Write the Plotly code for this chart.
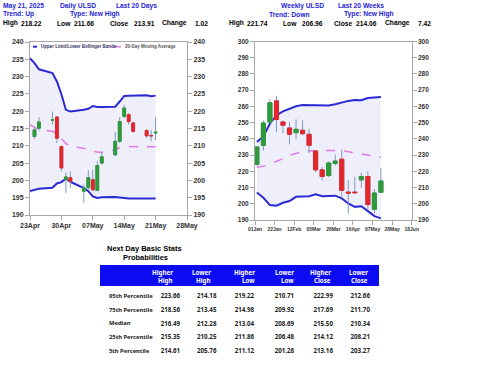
import plotly.graph_objects as go

# ---------------- data ----------------
day_dates = ["2025-04-24", "2025-04-25", "2025-04-28", "2025-04-29", "2025-04-30",
             "2025-05-01", "2025-05-02", "2025-05-05", "2025-05-06", "2025-05-07",
             "2025-05-08", "2025-05-09", "2025-05-12", "2025-05-13", "2025-05-14",
             "2025-05-15", "2025-05-16", "2025-05-19", "2025-05-20", "2025-05-21"]
day_open = [212.7, 215.1, 217.4, 218.3, 209.8, 200.3, 200.8, 196.9, 197.9, 200.2,
            197.1, 205.0, 207.4, 211.3, 218.5, 219.0, 216.6, 214.4, 213.0, 213.7]
day_high = [215.2, 218.3, 219.9, 218.5, 210.0, 202.3, 202.6, 198.8, 202.9, 203.1,
            205.5, 208.1, 214.1, 218.3, 221.8, 219.5, 217.0, 214.8, 214.6, 218.22]
day_low = [212.0, 214.4, 216.1, 210.8, 202.6, 196.4, 197.8, 193.5, 197.3, 196.9,
           196.9, 204.6, 207.0, 210.8, 217.9, 216.1, 213.7, 212.2, 211.3, 211.66]
day_close = [214.6, 216.9, 217.5, 212.2, 203.6, 201.0, 199.7, 197.8, 200.8, 197.3,
             204.3, 206.8, 211.3, 217.0, 220.9, 217.0, 214.2, 212.9, 212.89, 213.91]

day_band_dates = ["2025-04-23"] + day_dates
day_upper = [235.3, 233.9, 232.1, 231.0, 228.6, 224.9, 220.4, 219.9, 220.4, 220.7, 221.5,
             221.2, 221.2, 221.3, 222.8, 224.4, 224.5, 224.5, 224.6, 224.3, 224.5]
day_lower = [196.9, 197.2, 197.6, 197.9, 199.1, 199.5, 200.5, 199.6, 197.8, 196.9, 195.4,
             194.9, 195.1, 195.2, 195.0, 194.8, 194.8, 194.8, 194.8, 194.8, 194.8]
day_ma = [216.1, 215.3, 214.6, 214.2, 213.5, 212.0, 210.7, 209.8, 209.3, 208.9, 208.4,
          208.2, 208.1, 208.8, 209.5, 209.8, 209.8, 209.8, 209.7, 209.8, 209.7]

week_dates = ["2025-01-03", "2025-01-10", "2025-01-17", "2025-01-24", "2025-01-31",
              "2025-02-07", "2025-02-14", "2025-02-21", "2025-02-28", "2025-03-07",
              "2025-03-14", "2025-03-21", "2025-03-28", "2025-04-04", "2025-04-11",
              "2025-04-18", "2025-04-25", "2025-05-02", "2025-05-09", "2025-05-16"]
week_open = [224.2, 236.0, 250.4, 263.4, 250.4, 246.7, 243.8, 245.3, 242.8, 232.5,
             220.9, 217.4, 224.8, 227.5, 207.2, 207.2, 214.7, 216.8, 196.6, 207.1]
week_high = [235.5, 251.4, 264.4, 266.5, 251.4, 250.4, 252.1, 251.4, 246.3, 232.9,
             222.6, 226.1, 230.4, 233.5, 214.6, 216.6, 219.0, 220.0, 209.2, 221.74]
week_low = [223.5, 232.9, 249.8, 244.2, 243.5, 236.6, 239.7, 242.2, 231.2, 219.5,
            214.3, 216.4, 223.6, 204.5, 194.0, 206.6, 210.0, 196.5, 194.0, 206.96]
week_close = [235.0, 249.8, 262.2, 251.9, 248.4, 242.8, 245.9, 243.2, 236.0, 220.9,
              216.8, 225.1, 226.3, 208.3, 206.6, 206.8, 216.8, 199.5, 206.64, 214.06]
week_upper = [238.0, 241.5, 249.5, 254.5, 257.0, 258.7, 260.1, 260.9, 260.9, 260.7,
              260.5, 260.6, 261.3, 262.5, 263.4, 264.0, 263.8, 265.2, 265.7, 265.8]
week_lower = [207.0, 203.7, 199.2, 198.8, 200.6, 201.7, 204.3, 204.6, 204.6, 205.8,
              204.6, 204.8, 205.0, 203.3, 200.2, 198.1, 198.5, 195.5, 192.4, 191.0]
week_ma = [222.5, 223.2, 224.5, 226.0, 227.8, 229.8, 231.0, 232.3, 232.7, 232.8,
           232.6, 232.9, 232.8, 232.7, 232.0, 231.3, 230.8, 230.0, 229.3, 228.6]

stat_rows = ["95th Percentile", "75th Percentile", "Median", "25th Percentile", "5th Percentile"]
stat_cols_top = ["Higher", "Lower", "Higher", "Lower", "Higher", "Lower"]
stat_cols_bottom = ["High", "High", "Low", "Low", "Close", "Close"]
stat_vals = [
    [223.66, 218.56, 216.49, 215.35, 214.61],
    [214.18, 213.45, 212.28, 210.25, 205.76],
    [219.22, 214.98, 213.04, 211.86, 211.12],
    [210.71, 209.92, 208.69, 206.48, 201.28],
    [222.99, 217.69, 215.50, 214.12, 213.16],
    [212.66, 211.70, 210.34, 208.21, 203.27],
]

day_summary = [("High", "218.22"), ("Low", "211.66"), ("Close", "213.91"), ("Change", "1.02")]
week_summary = [("High", "221.74"), ("Low", "206.96"), ("Close", "214.06"), ("Change", "7.42")]

# ---------------- style ----------------
W, H = 480, 371
BAND = "#2a2ad4"
FILL = "#efeffb"
MA = "#e07ae6"
WICK = "#8199bb"
UP = "#2f9a3a"
DOWN = "#e3262b"
HDR_BLUE = "#2424d4"
FONT = "Liberation Sans"

def px(x):
    return x / W

def py(y):
    return 1 - y / H

fig = go.Figure()

def add_panel(xa, ya, ya2, dates, band_dates, upper, lower, ma, o, h, l, c):
    fig.add_trace(go.Scatter(x=band_dates, y=lower, mode="lines", line=dict(color=BAND, width=2),
                             xaxis=xa, yaxis=ya, showlegend=False, hoverinfo="skip"))
    fig.add_trace(go.Scatter(x=band_dates, y=upper, mode="lines", line=dict(color=BAND, width=2),
                             fill="tonexty", fillcolor=FILL,
                             xaxis=xa, yaxis=ya, showlegend=False, hoverinfo="skip"))
    fig.add_trace(go.Scatter(x=band_dates, y=ma, mode="lines", line=dict(color=MA, width=1.5, dash="dash"),
                             xaxis=xa, yaxis=ya, showlegend=False, hoverinfo="skip"))
    # wicks
    fig.add_trace(go.Candlestick(x=dates, open=o, high=h, low=l, close=c,
                                 increasing=dict(line=dict(color=WICK, width=1), fillcolor=WICK),
                                 decreasing=dict(line=dict(color=WICK, width=1), fillcolor=WICK),
                                 whiskerwidth=0,
                                 xaxis=xa, yaxis=ya2, showlegend=False, hoverinfo="skip"))
    # bodies
    bh = [max(a, b) for a, b in zip(o, c)]
    bl = [min(a, b) for a, b in zip(o, c)]
    fig.add_trace(go.Candlestick(x=dates, open=o, high=bh, low=bl, close=c,
                                 increasing=dict(line=dict(color=UP, width=1), fillcolor=UP),
                                 decreasing=dict(line=dict(color=DOWN, width=1), fillcolor=DOWN),
                                 whiskerwidth=0,
                                 xaxis=xa, yaxis=ya2, showlegend=False, hoverinfo="skip"))

DAY = 86400000
add_panel("x", "y", "y2", day_dates, day_band_dates, day_upper, day_lower, day_ma,
          day_open, day_high, day_low, day_close)
add_panel("x2", "y3", "y4", week_dates, week_dates, week_upper, week_lower, week_ma,
          week_open, week_high, week_low, week_close)

axis_common = dict(showgrid=False, zeroline=False, showline=True, linecolor="#a8a8a8", linewidth=1,
                   ticks="outside", ticklen=4, tickcolor="#a8a8a8", automargin=False)

def yfont(size):
    return dict(family=FONT, size=size, color="#333333", weight="bold")

fig.update_layout(
    width=W, height=H, margin=dict(l=0, r=0, t=0, b=0, pad=0), autosize=False,
    paper_bgcolor="white", plot_bgcolor="white", showlegend=False,
    boxgap=0.1, boxgroupgap=0.3,
    xaxis=dict(domain=[px(30), px(187)], type="date", range=["2025-04-23", "2025-05-28"],
               tick0="2025-04-23", dtick=7 * DAY, tickformat="%d%b", anchor="y",
               tickfont=yfont(7), rangeslider=dict(visible=False), mirror=True, **axis_common),
    yaxis=dict(domain=[py(215), py(42)], range=[190, 240], dtick=5, anchor="x",
               tickfont=yfont(7), **axis_common),
    yaxis2=dict(overlaying="y", side="right", matches="y", anchor="x", range=[190, 240], dtick=5,
                tickfont=yfont(7), **axis_common),
    xaxis2=dict(domain=[px(255), px(411.7)], type="date", range=["2025-01-01", "2025-06-18"],
                tick0="2025-01-01", dtick=21 * DAY, tickformat="%d%b", anchor="y3",
                tickfont=yfont(5), rangeslider=dict(visible=False), mirror=True, **axis_common),
    yaxis3=dict(domain=[py(220), py(41.5)], range=[190, 300], dtick=10, anchor="x2",
                tickfont=yfont(6.5), **axis_common),
    yaxis4=dict(overlaying="y3", side="right", matches="y3", anchor="x2", range=[190, 300], dtick=10,
                tickfont=yfont(6.5), **axis_common),
)

ann = []
def text(x, y, s, color="black", size=6.7, anchor="left", family=FONT):
    ann.append(dict(x=px(x), y=py(y), xref="paper", yref="paper", text="<b>" + s + "</b>",
                    showarrow=False, xanchor=anchor, yanchor="middle",
                    font=dict(family=family, size=size, color=color)))

# header texts
text(0.7, 5.7, "May 21, 2025", HDR_BLUE)
text(57.7, 5.7, "Daily ULSD", HDR_BLUE)
text(114, 5.7, "Last 20 Days", HDR_BLUE)
text(279, 5.7, "Weekly ULSD", HDR_BLUE)
text(335.7, 5.7, "Last 20 Weeks", HDR_BLUE)
text(0.7, 14.3, "Trend: Up", HDR_BLUE)
text(68, 14.3, "Type: New High", HDR_BLUE)
text(266.7, 14.3, "Trend: Down", HDR_BLUE)
text(342.3, 14.3, "Type: New High", HDR_BLUE)
for (lab, val), xl, xv in zip(day_summary, [0.7, 55, 108.3, 160], [19.3, 71.7, 131.7, 192.7]):
    text(xl, 23.3, lab)
    text(xv, 23.3, val)
for (lab, val), xl, xv in zip(week_summary, [226.7, 280.7, 332.3, 383.3], [245, 300, 354.3, 416]):
    text(xl, 23.3, lab)
    text(xv, 23.3, val)

# legend of left chart
text(38.5, 46.7, "Upper Limit/Lower Bollinger Bands", "#333366", 4.5)
text(123, 46.7, "20-Day Moving Average", "#555555", 4.5)

# table title
text(144, 248.3, "Next Day Basic Stats", "black", 7.5, "center")
text(145, 257.7, "Probabilities", "black", 7.5, "center")

# table column headings (white, two lines, right aligned)
for t, b, xr in zip(stat_cols_top, stat_cols_bottom, [175, 212.7, 256.7, 296, 333.3, 370]):
    text(xr, 272.3, t, "white", 6.2, "right", "Noto Sans")
    text(xr, 280.3, b, "white", 6.2, "right", "Noto Sans")

fig.update_layout(annotations=ann, shapes=[
    dict(type="line", xref="paper", yref="paper", x0=px(33), x1=px(37), y0=py(46.7), y1=py(46.7),
         line=dict(color=BAND, width=2)),
    dict(type="line", xref="paper", yref="paper", x0=px(113), x1=px(121), y0=py(46.7), y1=py(46.7),
         line=dict(color=MA, width=1.5, dash="dash")),
])

# stats table
NB = "\u00a0"
TBL_BLUE = "#0c0cf2"
fig.add_trace(go.Table(
    domain=dict(x=[px(101), px(378)], y=[py(362), py(265.8)]),
    columnwidth=[51.7, 36.3, 37.7, 40, 38.8, 37, 35.5],
    header=dict(values=[""] * 7,
                fill_color=TBL_BLUE, line=dict(color=TBL_BLUE, width=1.5),
                font=dict(family="Noto Sans", size=6.2, color="white"),
                height=19.8),
    cells=dict(values=[[r.replace(" ", NB) for r in stat_rows]] +
                      [["%.2f" % v for v in col] for col in stat_vals],
               fill_color="white", line=dict(color="white", width=0),
               font=dict(family="Noto Sans", size=[5.8] + [6.2] * 6, color="#222222", weight="bold"),
               align="left", height=13.7),
))

fig.write_html("out.html", config={"displayModeBar": False},
               post_script="document.body.style.margin='0px';")
